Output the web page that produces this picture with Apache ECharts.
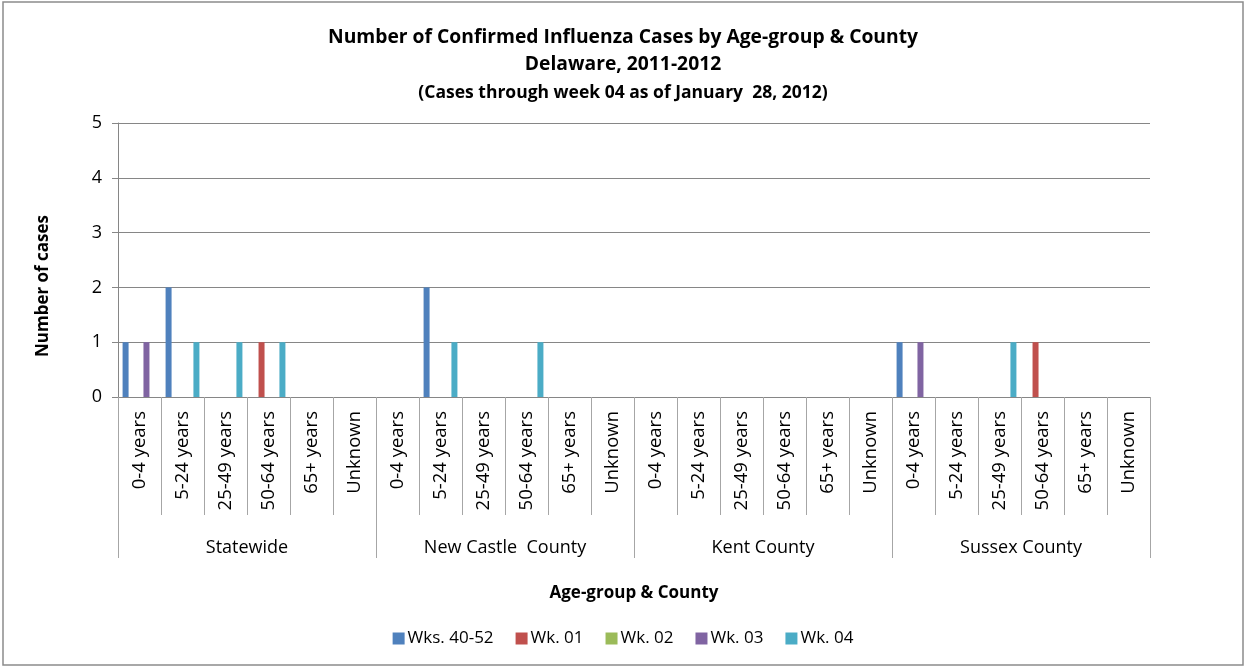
<!DOCTYPE html>
<html>
<head>
<meta charset="utf-8">
<script src="https://cdn.jsdelivr.net/npm/echarts@6/dist/echarts.min.js"></script>
<style>
html,body{margin:0;padding:0;background:#fff;}
#chart{width:1246px;height:667px;}
</style>
</head>
<body>
<div id="chart"></div>
<script>
const ageGroups = ['0-4 years','5-24 years','25-49 years','50-64 years','65+ years','Unknown'];
const counties = ['Statewide','New Castle  County','Kent County','Sussex County'];
const seriesNames = ['Wks. 40-52','Wk. 01','Wk. 02','Wk. 03','Wk. 04'];
// values per category: Statewide(6), New Castle(6), Kent(6), Sussex(6)
const wks4052 = [1,2,0,0,0,0, 0,2,0,0,0,0, 0,0,0,0,0,0, 1,0,0,0,0,0];
const wk01    = [0,0,0,1,0,0, 0,0,0,0,0,0, 0,0,0,0,0,0, 0,0,0,1,0,0];
const wk02    = [0,0,0,0,0,0, 0,0,0,0,0,0, 0,0,0,0,0,0, 0,0,0,0,0,0];
const wk03    = [1,0,0,0,0,0, 0,0,0,0,0,0, 0,0,0,0,0,0, 1,0,0,0,0,0];
const wk04    = [0,1,1,1,0,0, 0,1,0,1,0,0, 0,0,0,0,0,0, 0,0,1,0,0,0];
const yTicks = [0,1,2,3,4,5];

const colors = ['#4F81BD','#C0504D','#9BBB59','#8064A2','#4BACC6'];
const FONT = '"Open Sans", Lato, sans-serif';
const categories = [];
counties.forEach(() => ageGroups.forEach(a => categories.push(a)));
const values = [wks4052, wk01, wk02, wk03, wk04];

const chart = echarts.init(document.getElementById('chart'));
chart.setOption({
  animation: false,
  color: colors,
  textStyle: { fontFamily: FONT, color: '#000' },
  title: {
    left: 'center',
    top: 19,
    text: 'Number of Confirmed Influenza Cases by Age-group & County\nDelaware, 2011-2012',
    textStyle: { fontFamily: FONT, fontSize: 19.3, fontWeight: 'bold', color: '#000', lineHeight: 27 },
    subtext: '(Cases through week 04 as of January  28, 2012)',
    subtextStyle: { fontFamily: FONT, fontSize: 17.5, fontWeight: 'bold', color: '#000', lineHeight: 22 },
    itemGap: 4
  },
  legend: {
    top: 625,
    left: 'center',
    itemWidth: 12,
    itemHeight: 12,
    itemGap: 22,
    icon: 'rect',
    textStyle: { fontFamily: FONT, fontSize: 17, color: '#000', padding: [0,0,0,-2] },
    data: seriesNames
  },
  grid: { left: 118, right: 96, top: 123, bottom: 270 },
  xAxis: [
    {
      type: 'category',
      position: 'bottom',
      data: categories,
      axisLine: { show: true, lineStyle: { color: '#868686', width: 1 } },
      axisTick: { show: true, interval: 0, length: 118, lineStyle: { color: '#a6a6a6' } },
      axisLabel: { interval: 0, rotate: 90, margin: 14, fontSize: 18.5, color: '#000', fontFamily: FONT },
      splitLine: { show: false }
    },
    {
      type: 'category',
      position: 'bottom',
      data: counties,
      axisLine: { show: false },
      axisTick: { show: true, interval: 0, length: 161, lineStyle: { color: '#a6a6a6' } },
      axisLabel: { interval: 0, margin: 142, fontSize: 18, color: '#000', fontFamily: FONT },
      splitLine: { show: false },
      name: 'Age-group & County',
      nameLocation: 'middle',
      nameGap: 188,
      nameTextStyle: { fontFamily: FONT, fontSize: 17, fontWeight: 'bold', color: '#000' }
    }
  ],
  yAxis: {
    type: 'value',
    min: 0, max: 5, interval: 1,
    axisLine: { show: true, lineStyle: { color: '#868686' } },
    axisTick: { show: true, length: 6, lineStyle: { color: '#868686' } },
    axisLabel: { fontSize: 18, color: '#000', margin: 16, fontFamily: FONT },
    splitLine: { show: true, lineStyle: { color: '#868686', width: 1 } }
  },
  graphic: [
    { type: 'rect', shape: { x: 3, y: 2, width: 1240, height: 663 }, style: { fill: 'none', stroke: '#8c8c8c', lineWidth: 1.5 }, silent: true },
    { type: 'text', x: 43, y: 286, rotation: Math.PI / 2,
      style: { text: 'Number of cases', fontFamily: FONT, fontSize: 17, fontWeight: 'bold', fill: '#000', textAlign: 'center', textVerticalAlign: 'middle' } }
  ],
  series: seriesNames.map((n, i) => ({
    name: n,
    type: 'bar',
    xAxisIndex: 0,
    barWidth: 6,
    barGap: '16%',
    data: values[i],
    itemStyle: { color: colors[i] }
  }))
});
</script>
</body>
</html>
